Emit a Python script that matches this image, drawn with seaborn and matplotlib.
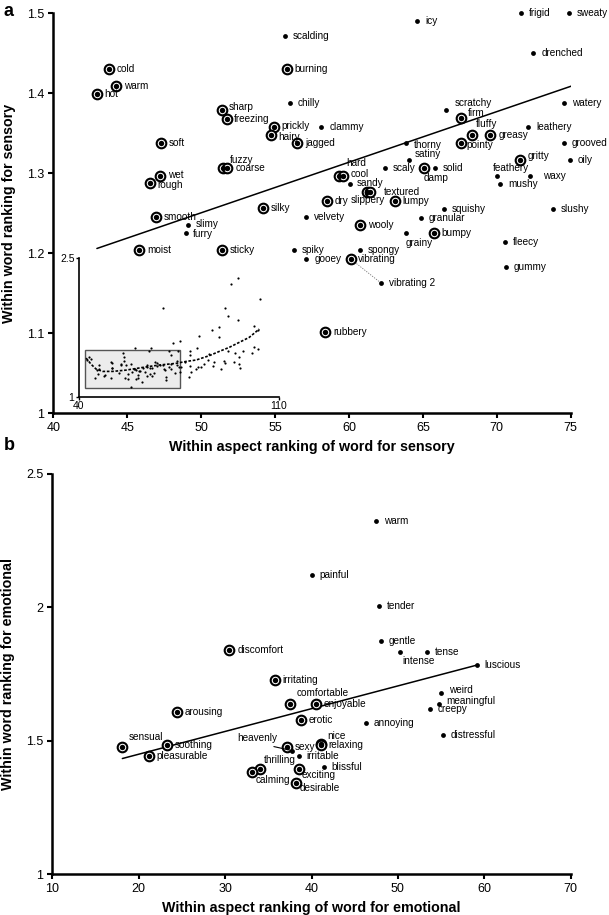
import numpy as np
import pandas as pd
import matplotlib
matplotlib.use("Agg")
import matplotlib.pyplot as plt
from matplotlib.patches import Rectangle
import seaborn as sns

# ---------------- Panel a data (sensory) ----------------
words_a = ["cold", "warm", "hot", "scalding", "burning", "chilly", "sharp", "freezing",
           "prickly", "hairy", "jagged", "clammy", "soft", "fuzzy", "coarse", "wet", "rough",
           "silky", "smooth", "slimy", "furry", "moist", "sticky", "spiky", "gooey", "velvety",
           "rubbery", "icy", "frigid", "sweaty", "drenched", "watery", "scratchy", "firm",
           "fluffy", "greasy", "pointy", "leathery", "grooved", "thorny", "satiny", "gritty",
           "oily", "scaly", "damp", "solid", "feathery", "waxy", "mushy", "hard", "cool",
           "sandy", "slippery", "textured", "dry", "lumpy", "squishy", "slushy", "granular",
           "wooly", "grainy", "bumpy", "fleecy", "gummy", "spongy", "vibrating", "vibrating 2"]
x_a = [43.76, 44.24, 42.93, 55.66, 55.81, 55.99, 51.38, 51.72,
       54.91, 54.76, 56.51, 58.14, 47.28, 51.49, 51.78, 47.21, 46.53,
       54.19, 46.92, 49.12, 48.95, 45.83, 51.42, 56.26, 57.12, 57.12,
       58.40, 64.62, 71.65, 74.91, 72.48, 74.53, 66.58, 67.55,
       68.31, 69.57, 67.55, 72.14, 74.57, 63.83, 64.03, 71.56,
       74.96, 62.46, 65.11, 65.79, 70.03, 72.28, 70.25, 59.30, 59.61,
       60.05, 61.20, 61.40, 58.52, 63.09, 66.42, 73.78, 64.89,
       60.77, 63.83, 65.74, 70.57, 70.61, 60.72, 60.11, 62.19]
y_a = [1.430, 1.409, 1.399, 1.471, 1.430, 1.388, 1.379, 1.368,
       1.358, 1.348, 1.338, 1.358, 1.338, 1.306, 1.306, 1.297, 1.2875,
       1.256, 1.245, 1.235, 1.225, 1.204, 1.204, 1.204, 1.193, 1.245,
       1.101, 1.490, 1.500, 1.500, 1.450, 1.388, 1.379, 1.369,
       1.348, 1.348, 1.3375, 1.358, 1.338, 1.338, 1.317, 1.317,
       1.317, 1.306, 1.307, 1.307, 1.297, 1.297, 1.287, 1.297, 1.297,
       1.287, 1.276, 1.276, 1.265, 1.265, 1.255, 1.255, 1.2445,
       1.235, 1.225, 1.225, 1.214, 1.183, 1.204, 1.193, 1.1625]
ringed_a = ["cold", "warm", "hot", "burning", "sharp", "freezing", "prickly", "hairy",
            "jagged", "soft", "fuzzy", "coarse", "wet", "rough", "silky", "smooth", "moist",
            "sticky", "rubbery", "firm", "fluffy", "greasy", "pointy", "gritty", "damp",
            "hard", "cool", "slippery", "textured", "dry", "lumpy", "wooly", "bumpy", "vibrating"]
fit_a_x = [42.95, 75.05]
fit_a_y = [1.206, 1.409]

# inset: full range of words (points beyond the boxed region) and smoothed trend
inset_x = [69.6, 59.8, 65.3, 73.1, 75.6, 93.3, 95.9, 103.6, 91.3, 92.4, 95.9, 89.0, 86.7,
           89.0, 82.2, 101.5, 102.9, 101.5, 102.7, 100.7, 97.4, 94.8, 96.2, 96.0, 96.5,
           94.4, 92.4, 90.8, 91.1, 89.8, 87.5, 86.9, 85.7, 85.2, 84.0, 82.8, 81.7, 81.5,
           79.1, 78.9, 81.0, 79.4, 78.6, 77.3, 75.9, 75.4, 78.8]
inset_y = [1.956, 1.523, 1.523, 1.580, 1.606, 2.219, 2.284, 2.057, 1.959, 1.869, 1.829,
           1.757, 1.725, 1.649, 1.656, 1.768, 1.725, 1.541, 1.516, 1.469, 1.498, 1.472,
           1.426, 1.353, 1.307, 1.371, 1.490, 1.382, 1.361, 1.299, 1.371, 1.335, 1.462,
           1.397, 1.353, 1.325, 1.317, 1.523, 1.498, 1.454, 1.299, 1.263, 1.209, 1.371,
           1.317, 1.263, 1.335]
trend_x = [42.6, 44.3, 46.1, 48.4, 51.9, 56.6, 62.4, 68.2, 74.1, 77.6, 81.1, 85.7, 89.2,
           92.7, 96.2, 99.7, 103.2]
trend_y = [1.418, 1.353, 1.299, 1.274, 1.274, 1.288, 1.317, 1.343, 1.361, 1.382, 1.397,
           1.444, 1.490, 1.534, 1.588, 1.642, 1.732]
inset_box = [42.2, 75.5, 1.09, 1.51]

# ---------------- Panel b data (emotional) ----------------
words_b = ["warm", "painful", "tender", "gentle", "intense", "tense", "luscious", "weird",
           "meaningful", "creepy", "distressful", "discomfort", "irritating", "comfortable",
           "enjoyable", "erotic", "annoying", "arousing", "sensual", "soothing", "pleasurable",
           "heavenly", "sexy", "nice", "relaxing", "irritable", "thrilling", "calming",
           "exciting", "blissful", "desirable"]
x_b = [47.5, 40.0, 47.8, 48.0, 50.2, 53.4, 59.1, 55.0,
       54.8, 53.7, 55.2, 30.5, 35.75, 37.45,
       40.55, 38.75, 46.3, 24.4, 18.1, 23.3, 21.2,
       37.7, 37.2, 41.15, 41.05, 38.5, 34.0, 33.1,
       38.5, 41.45, 38.2]
y_b = [2.323, 2.121, 2.006, 1.874, 1.834, 1.834, 1.783, 1.679,
       1.638, 1.617, 1.523, 1.841, 1.727, 1.637,
       1.637, 1.577, 1.568, 1.606, 1.475, 1.483, 1.442,
       1.463, 1.475, 1.489, 1.485, 1.443, 1.392, 1.383,
       1.392, 1.401, 1.342]
ringed_b = ["discomfort", "irritating", "comfortable", "enjoyable", "erotic", "arousing",
            "sensual", "soothing", "pleasurable", "sexy", "nice", "relaxing", "thrilling",
            "calming", "exciting", "desirable"]
fit_b_x = [18.1, 59.1]
fit_b_y = [1.433, 1.783]

# ---------------- label placement (style, in points) ----------------
DEF = (5.6, 0, "left", "center")
offs_a = {
    "fuzzy": (4.6, 6.0, "left", "center"), "hard": (5.4, 8.8, "left", "center"),
    "textured": (10.0, 0.6, "left", "center"), "slippery": (-11.5, -5.4, "left", "center"),
    "damp": (-0.8, -7.4, "left", "center"), "satiny": (4.3, 3.8, "left", "center"),
    "scratchy": (6.4, 5.0, "left", "center"), "firm": (5.0, 3.6, "left", "center"),
    "fluffy": (2.6, 7.8, "left", "center"), "pointy": (4.0, -1.2, "left", "center"),
    "feathery": (-3.4, 5.8, "left", "center"), "waxy": (9.2, 0, "left", "center"),
    "grainy": (0, -7.0, "left", "center"), "gritty": (5.6, 2.8, "left", "center"),
    "sharp": (5.4, 2.0, "left", "center"), "thorny": (6.2, -1.2, "left", "center"),
    "wet": (5.6, 0.8, "left", "center"), "rough": (5.2, -0.9, "left", "center"),
    "prickly": (5.6, 0.6, "left", "center"), "hairy": (5.0, -1.2, "left", "center"),
    "slimy": (5.2, 0.6, "left", "center"), "furry": (5.4, -0.8, "left", "center"),
    "cool": (5.6, 1.2, "left", "center"), "sandy": (5.4, 0.4, "left", "center"),
}
offs_b = {
    "sensual": (4.8, 7.2, "left", "center"), "nice": (4.3, 5.8, "left", "center"),
    "thrilling": (2.9, 6.7, "left", "center"), "calming": (2.7, -6.0, "left", "center"),
    "exciting": (2.2, -4.2, "left", "center"), "desirable": (2.8, -3.9, "left", "center"),
    "comfortable": (4.8, 8.1, "left", "center"), "intense": (1.9, -7.0, "left", "center"),
    "weird": (5.5, 2.0, "left", "center"), "meaningful": (5.3, 2.4, "left", "center"),
}

sns.set_theme(style="ticks")
plt.rcParams["font.family"] = ["Liberation Sans", "DejaVu Sans"]
plt.rcParams["axes.linewidth"] = 1.5
plt.rcParams["text.color"] = "black"
plt.rcParams["axes.labelcolor"] = "black"
plt.rcParams["xtick.color"] = "black"
plt.rcParams["ytick.color"] = "black"
plt.rcParams["axes.edgecolor"] = "black"

LBL = 7.2
fig = plt.figure(figsize=(6.09, 9.15), dpi=100)
ax_a = fig.add_axes([0.0875, 0.5483, 0.8496, 0.4372])
ax_b = fig.add_axes([0.0860, 0.0448, 0.8511, 0.4372])


def draw_panel(ax, words, xs, ys, ringed, offs, fit_x, fit_y):
    df = pd.DataFrame({"word": words, "x": xs, "y": ys})
    df["ring"] = df["word"].isin(ringed)
    sns.lineplot(x=fit_x, y=fit_y, ax=ax, color="black", lw=1.1, zorder=2)
    sns.scatterplot(data=df[df.ring], x="x", y="y", ax=ax, s=48, color="white",
                    edgecolor="black", linewidth=1.5, zorder=3, clip_on=False)
    sns.scatterplot(data=df[df.ring], x="x", y="y", ax=ax, s=15, color="black",
                    linewidth=0, zorder=4, clip_on=False)
    sns.scatterplot(data=df[~df.ring], x="x", y="y", ax=ax, s=12, color="black",
                    linewidth=0, zorder=4, clip_on=False)
    for w, x, y in zip(words, xs, ys):
        if w == "heavenly":
            continue
        dx, dy, ha, va = offs.get(w, DEF)
        ax.annotate(w, (x, y), xytext=(dx, dy), textcoords="offset points",
                    ha=ha, va=va, fontsize=LBL, color="black", zorder=5,
                    annotation_clip=False)
    return df


draw_panel(ax_a, words_a, x_a, y_a, ringed_a, offs_a, fit_a_x, fit_a_y)
iv, iv2 = words_a.index("vibrating"), words_a.index("vibrating 2")
ax_a.plot([x_a[iv], x_a[iv2]], [y_a[iv], y_a[iv2]], color="#777777", lw=0.6,
          ls=(0, (1.5, 1.5)), zorder=1)

draw_panel(ax_b, words_b, x_b, y_b, ringed_b, offs_b, fit_b_x, fit_b_y)
ih = words_b.index("heavenly")
ax_b.annotate("heavenly", (x_b[ih], y_b[ih]), xytext=(-10.5, 8.8), textcoords="offset points",
              ha="right", va="center", fontsize=LBL, color="black",
              arrowprops=dict(arrowstyle="-", lw=0.8, color="black", shrinkA=0, shrinkB=0,
                              relpos=(0.55, 0.0)))

# axes formatting
for ax, xl, yl, xt, yt, xlab, ylab in [
    (ax_a, (40, 75), (1, 1.5), [40, 45, 50, 55, 60, 65, 70, 75],
     [1, 1.1, 1.2, 1.3, 1.4, 1.5],
     "Within aspect ranking of word for sensory", "Within word ranking for sensory"),
    (ax_b, (10, 70), (1, 2.5), [10, 20, 30, 40, 50, 60, 70], [1, 1.5, 2, 2.5],
     "Within aspect ranking of word for emotional", "Within word ranking for emotional"),
]:
    ax.set_xlim(*xl)
    ax.set_ylim(*yl)
    ax.set_xticks(xt)
    ax.set_yticks(yt)
    ax.set_xticklabels([f"{v:g}" for v in xt])
    ax.set_yticklabels([f"{v:g}" for v in yt])
    ax.tick_params(axis="both", labelsize=9, length=3.5, width=1.5, pad=3, colors="black")
    ax.set_xlabel(xlab, fontsize=10.3, fontweight="bold", labelpad=4, color="black")
    ax.set_ylabel(ylab, fontsize=10.3, fontweight="bold", labelpad=8, color="black")
    sns.despine(ax=ax)
    ax.spines["left"].set_linewidth(1.8)
    ax.spines["bottom"].set_linewidth(1.8)
    ax.set_facecolor("white")

# inset
ax_i = fig.add_axes([0.1292, 0.5664, 0.3284, 0.1516])
ax_i.set_facecolor("none")
ax_i.add_patch(Rectangle((inset_box[0], inset_box[2]), inset_box[1] - inset_box[0],
                         inset_box[3] - inset_box[2], facecolor="#ececec",
                         edgecolor="#555555", lw=1.0, zorder=1))
sns.scatterplot(x=x_a + inset_x, y=y_a + inset_y, ax=ax_i, s=2.5, color="black",
                linewidth=0, zorder=3)
sns.lineplot(x=trend_x, y=trend_y, ax=ax_i, color="black", lw=1.2,
             linestyle=(0, (1.6, 1.0)), zorder=4)
ax_i.set_xlim(40, 110)
ax_i.set_ylim(1, 2.5)
ax_i.set_xticks([40, 110])
ax_i.set_yticks([1, 2.5])
ax_i.set_xticklabels(["40", "110"])
ax_i.set_yticklabels(["1", "2.5"])
ax_i.tick_params(axis="both", labelsize=7.5, length=2, width=1.0, pad=1, colors="black")
ax_i.set_xlabel("")
ax_i.set_ylabel("")
sns.despine(ax=ax_i)
ax_i.spines["left"].set_linewidth(1.2)
ax_i.spines["bottom"].set_linewidth(1.2)

fig.text(0.006, 0.997, "a", fontsize=13, fontweight="bold", ha="left", va="top")
fig.text(0.006, 0.522, "b", fontsize=13, fontweight="bold", ha="left", va="top")

fig.savefig("out.png", dpi=100, facecolor="white")
